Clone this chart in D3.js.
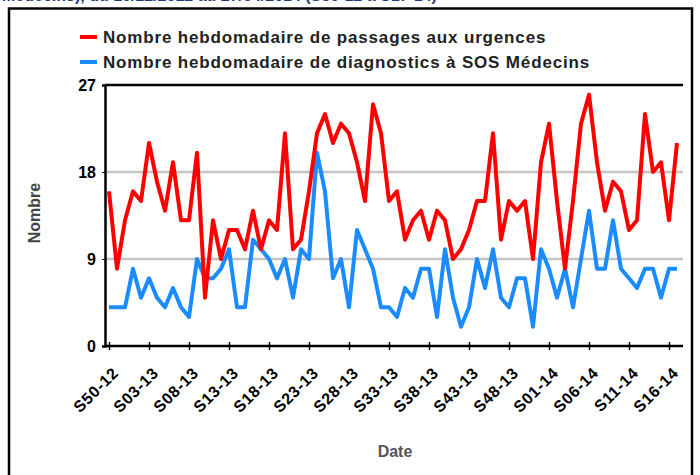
<!DOCTYPE html>
<html>
<head>
<meta charset="utf-8">
<script src="https://cdn.jsdelivr.net/npm/d3@7"></script>
<style>
    body { margin: 0; background: #fff; }
    svg { display: block; font-family: "Liberation Sans", Arial, sans-serif; }
</style>
</head>
<body>
<div id="chart"></div>
<script>

// weeks S50-12 .. S17-14
const weeks = ['S50-12', 'S51-12', 'S52-12',
    'S01-13', 'S02-13', 'S03-13', 'S04-13', 'S05-13', 'S06-13', 'S07-13', 'S08-13', 'S09-13', 'S10-13',
    'S11-13', 'S12-13', 'S13-13', 'S14-13', 'S15-13', 'S16-13', 'S17-13', 'S18-13', 'S19-13', 'S20-13',
    'S21-13', 'S22-13', 'S23-13', 'S24-13', 'S25-13', 'S26-13', 'S27-13', 'S28-13', 'S29-13', 'S30-13',
    'S31-13', 'S32-13', 'S33-13', 'S34-13', 'S35-13', 'S36-13', 'S37-13', 'S38-13', 'S39-13', 'S40-13',
    'S41-13', 'S42-13', 'S43-13', 'S44-13', 'S45-13', 'S46-13', 'S47-13', 'S48-13', 'S49-13', 'S50-13',
    'S51-13', 'S52-13',
    'S01-14', 'S02-14', 'S03-14', 'S04-14', 'S05-14', 'S06-14', 'S07-14', 'S08-14', 'S09-14', 'S10-14',
    'S11-14', 'S12-14', 'S13-14', 'S14-14', 'S15-14', 'S16-14', 'S17-14'];

const urgences = [16, 8, 13, 16, 15, 21, 17, 14, 19, 13, 13, 20, 5, 13, 9, 12, 12, 10, 14, 10,
    13, 12, 22, 10, 11, 16, 22, 24, 21, 23, 22, 19, 15, 25, 22, 15, 16, 11, 13, 14,
    11, 14, 13, 9, 10, 12, 15, 15, 22, 11, 15, 14, 15, 9, 19, 23, 15, 8, 15, 23,
    26, 19, 14, 17, 16, 12, 13, 24, 18, 19, 13, 21];

const sosMedecins = [4, 4, 4, 8, 5, 7, 5, 4, 6, 4, 3, 9, 7, 7, 8, 10, 4, 4, 11, 10,
    9, 7, 9, 5, 10, 9, 20, 16, 7, 9, 4, 12, 10, 8, 4, 4, 3, 6, 5, 8,
    8, 3, 10, 5, 2, 4, 9, 6, 10, 5, 4, 7, 7, 2, 10, 8, 5, 8, 4, 9,
    14, 8, 8, 13, 8, 7, 6, 8, 8, 5, 8, 8];

const tickLabels = ['S50-12', 'S03-13', 'S08-13', 'S13-13', 'S18-13', 'S23-13', 'S28-13', 'S33-13',
    'S38-13', 'S43-13', 'S48-13', 'S01-14', 'S06-14', 'S11-14', 'S16-14'];

const yTicks = [0, 9, 18, 27];

const seriesNames = ['Nombre hebdomadaire de passages aux urgences',
    'Nombre hebdomadaire de diagnostics à SOS Médecins'];

const config = {
    "width": 700,
    "height": 475,
    "left": 105,
    "right": 681,
    "top": 85,
    "bottom": 346,
    "red": "#ff0000",
    "blue": "#1a8cff"
};

let svg = d3.select("#chart").append("svg")
    .attr("width", config.width)
    .attr("height", config.height);

// title above the frame, cut by the top edge as in the source picture
svg.append("text")
    .attr("x", 2)
    .attr("y", 1)
    .attr("fill", "#1f3a78")
    .attr("font-size", "16px")
    .attr("font-weight", "bold")
    .text("Médecins), du 10/12/2012 au 27/04/2014 (S50-12 à S17-14)");

// outer frame (top, left, right)
svg.append("path")
    .attr("d", "M9,476V8.5H692V476")
    .attr("fill", "none")
    .attr("stroke", "#000")
    .attr("stroke-width", 2.5);

let x = d3.scalePoint()
    .domain(weeks)
    .range([config.left, config.right])
    .padding(0.5);

let y = d3.scaleLinear()
    .domain([0, 27])
    .range([config.bottom, config.top]);

// grid lines
svg.append("g").selectAll("line")
    .data(yTicks.filter(d => d > 0 && d < 27))
    .enter().append("line")
    .attr("x1", config.left)
    .attr("x2", config.right + 2)
    .attr("y1", d => y(d))
    .attr("y2", d => y(d))
    .attr("stroke", "#c4c4c4")
    .attr("stroke-width", 2.5);

// top line
svg.append("line")
    .attr("x1", config.left)
    .attr("x2", config.right + 2)
    .attr("y1", y(27))
    .attr("y2", y(27))
    .attr("stroke", "#000")
    .attr("stroke-width", 2.5);

// y axis
let yAxis = svg.append("g")
    .attr("transform", "translate(" + config.left + ",0)")
    .call(d3.axisLeft(y).tickValues(yTicks).tickSize(3).tickPadding(6));
yAxis.select(".domain").attr("stroke-width", 2.5);
yAxis.selectAll("text")
    .attr("font-size", "16px")
    .attr("font-weight", "bold")
    .attr("fill", "#000")
    .attr("font-family", "Liberation Sans, Arial, sans-serif");

// x axis
let xAxis = svg.append("g")
    .attr("transform", "translate(0," + config.bottom + ")")
    .call(d3.axisBottom(x).tickValues(tickLabels).tickSizeInner(4).tickSizeOuter(0));
xAxis.select(".domain")
    .attr("d", "M" + config.left + ",0H" + (config.right + 2))
    .attr("stroke-width", 2.5);
xAxis.selectAll(".tick line")
    .attr("y1", -4)
    .attr("stroke-width", 1.5);
xAxis.selectAll("text")
    .attr("font-size", "16px")
    .attr("font-weight", "bold")
    .attr("letter-spacing", "0.7px")
    .attr("fill", "#000")
    .attr("font-family", "Liberation Sans, Arial, sans-serif")
    .attr("text-anchor", "end")
    .attr("dy", 0)
    .attr("y", 0)
    .attr("transform", "translate(10,28) rotate(-45)");

// lines
let line = d3.line()
    .x((d, i) => x(weeks[i]))
    .y(d => y(d));

svg.append("path")
    .datum(sosMedecins)
    .attr("fill", "none")
    .attr("stroke", config.blue)
    .attr("stroke-width", 4)
    .attr("stroke-linejoin", "round")
    .attr("d", line);

svg.append("path")
    .datum(urgences)
    .attr("fill", "none")
    .attr("stroke", config.red)
    .attr("stroke-width", 4)
    .attr("stroke-linejoin", "round")
    .attr("d", line);

// legend
let legend = svg.append("g").selectAll("g")
    .data(seriesNames)
    .enter().append("g")
    .attr("transform", (d, i) => "translate(80," + (37 + i * 25) + ")");

legend.append("line")
    .attr("x1", 0)
    .attr("x2", 17)
    .attr("stroke", (d, i) => i === 0 ? config.red : config.blue)
    .attr("stroke-width", 4);

legend.append("text")
    .attr("x", 23)
    .attr("dy", "0.35em")
    .attr("font-size", "17px")
    .attr("font-weight", "bold")
    .attr("letter-spacing", "0.84px")
    .attr("fill", "#222")
    .text(d => d);

// axis titles
svg.append("text")
    .attr("transform", "translate(40,213) rotate(-90)")
    .attr("text-anchor", "middle")
    .attr("font-size", "16px")
    .attr("font-weight", "bold")
    .attr("fill", "#444")
    .text("Nombre");

svg.append("text")
    .attr("x", 395)
    .attr("y", 457)
    .attr("text-anchor", "middle")
    .attr("font-size", "16px")
    .attr("font-weight", "bold")
    .attr("fill", "#555")
    .text("Date");

</script>
</body>
</html>
